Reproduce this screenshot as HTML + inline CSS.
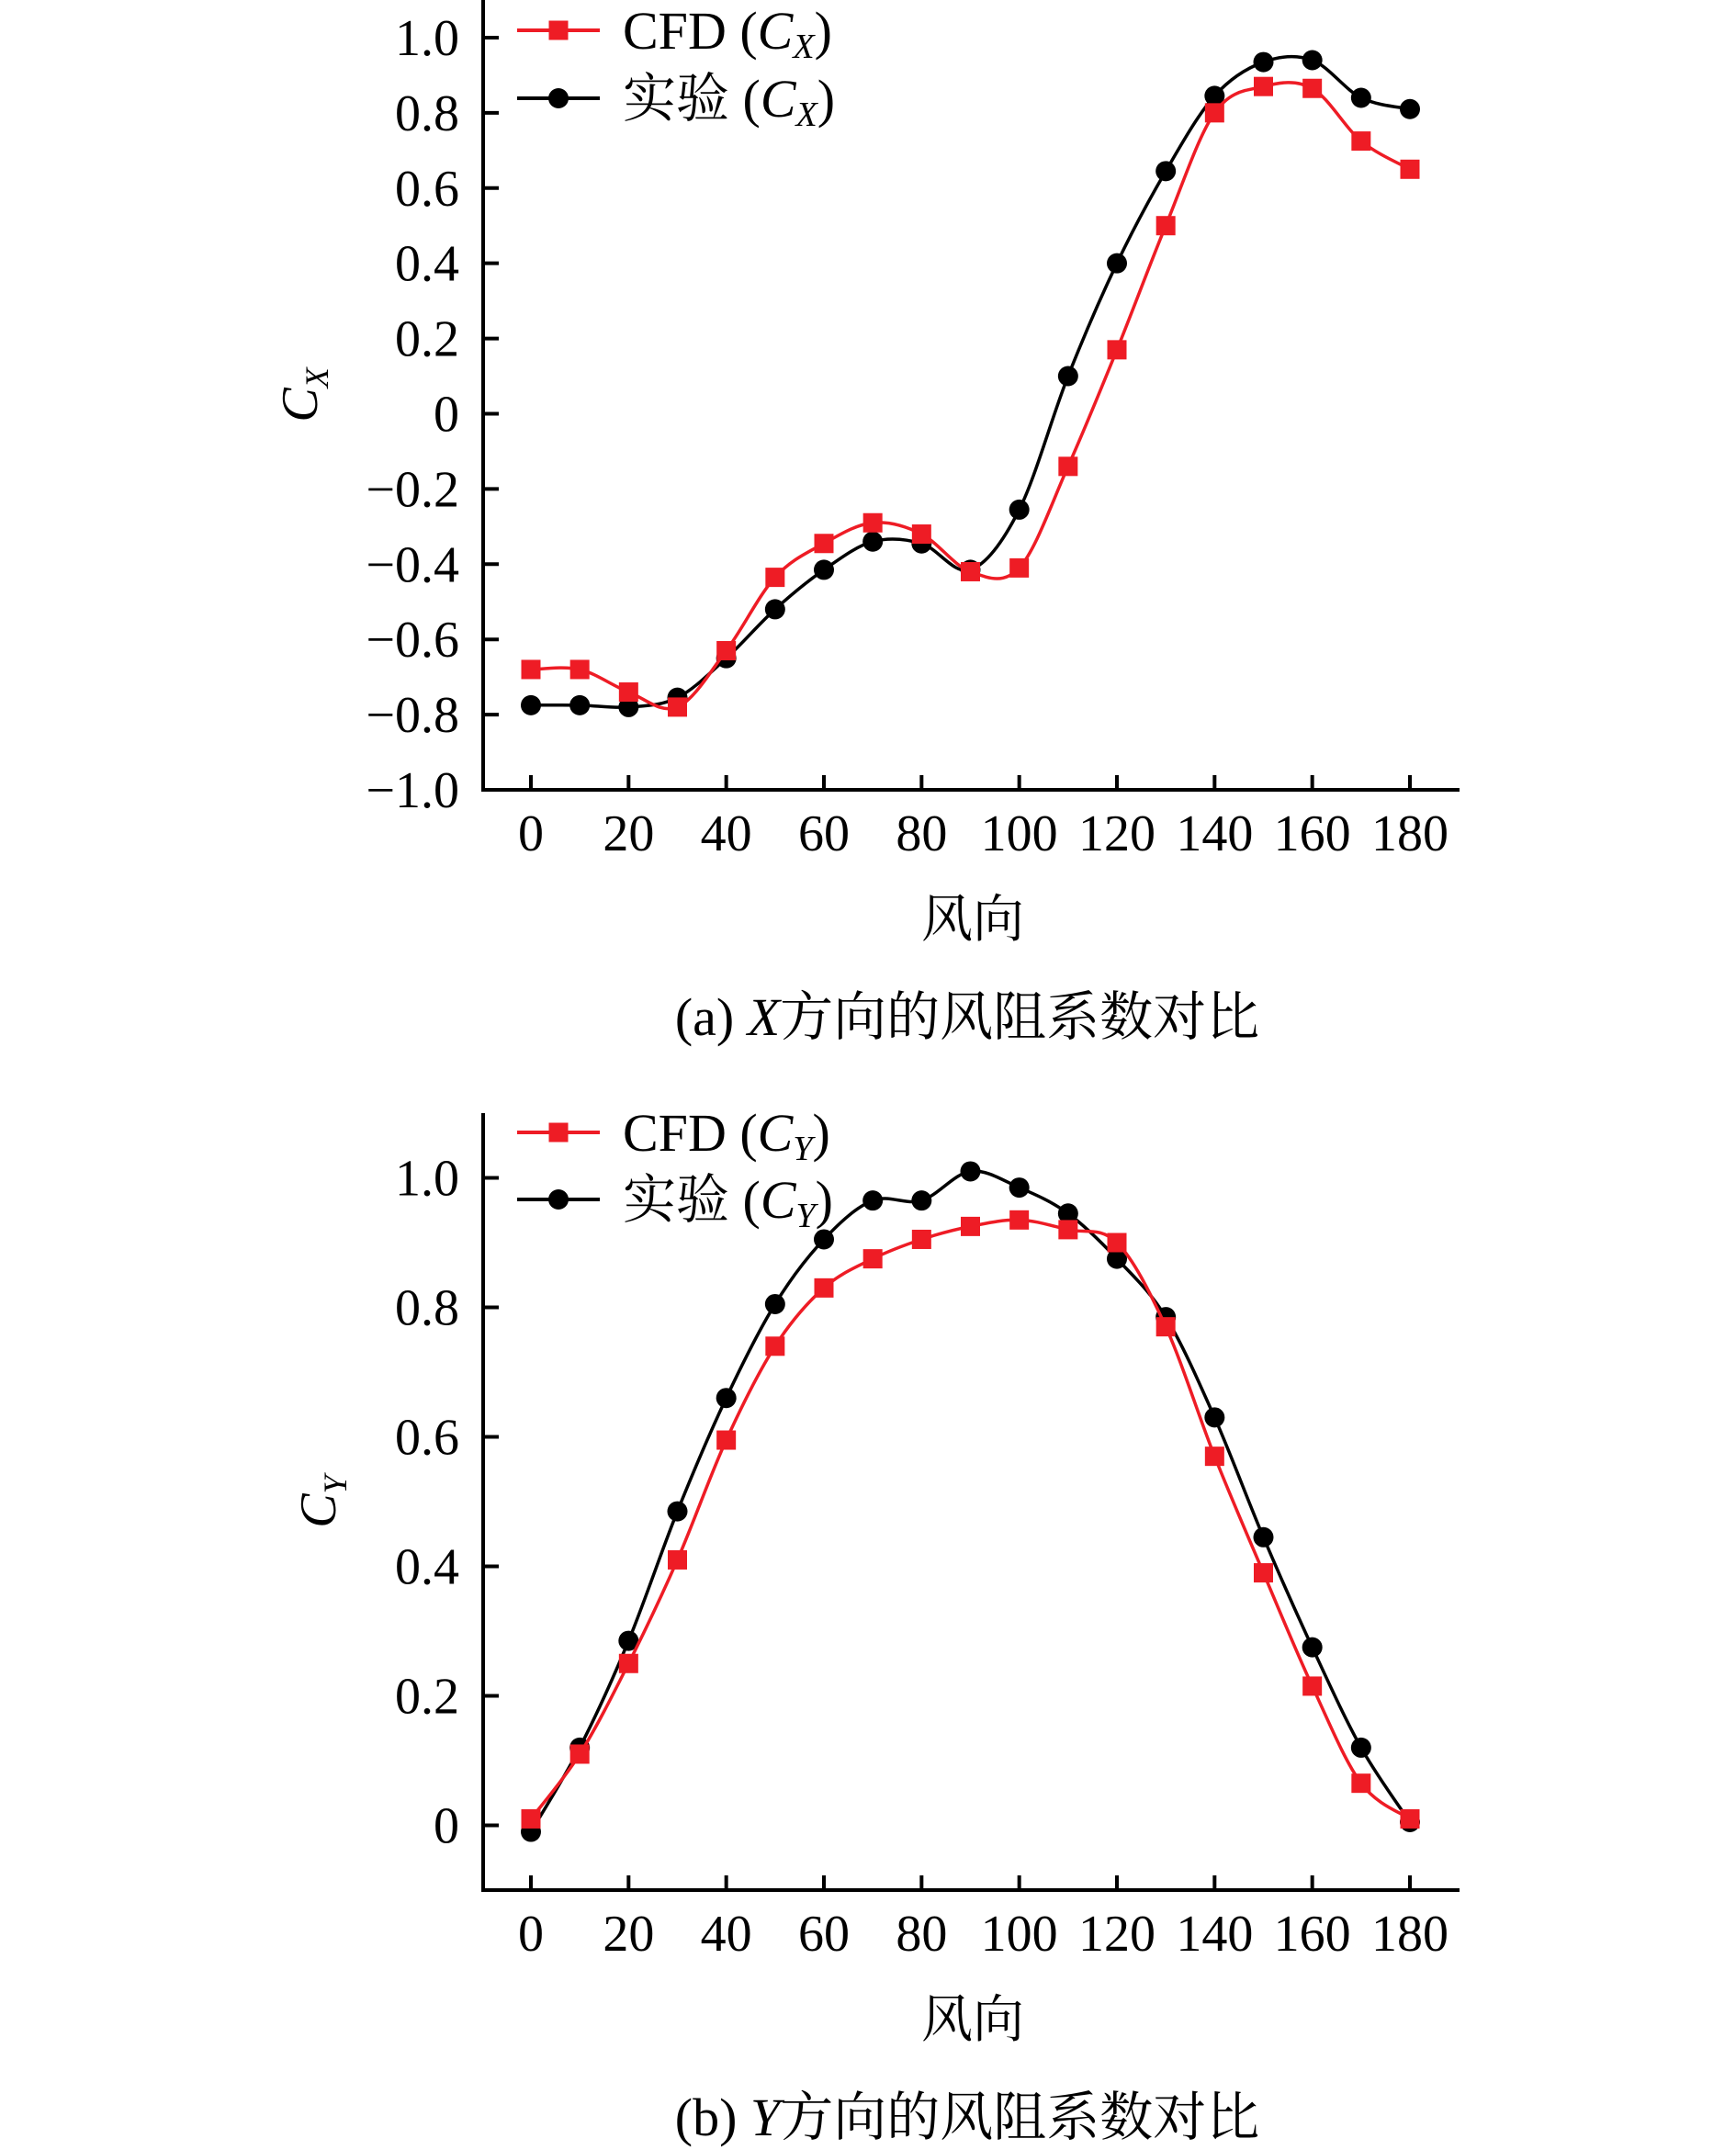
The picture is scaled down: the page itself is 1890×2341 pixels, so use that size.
<!DOCTYPE html>
<html><head><meta charset="utf-8"><style>
html,body{margin:0;padding:0;background:#fff}
svg{display:block}
text{font-family:"Liberation Serif","Noto Serif CJK SC",serif;fill:#000}
</style></head><body>
<svg id="s" width="1890" height="2341" viewBox="0 0 1890 2341" xmlns="http://www.w3.org/2000/svg"></svg>
<script>
const xCats=[0,10,20,30,40,50,60,70,80,90,100,110,120,130,140,150,160,170,180];
const xTicks=[0,20,40,60,80,100,120,140,160,180];
const cxCfd=[-0.68,-0.68,-0.74,-0.78,-0.63,-0.435,-0.345,-0.29,-0.32,-0.42,-0.41,-0.14,0.17,0.50,0.80,0.87,0.865,0.725,0.65];
const cxExp=[-0.775,-0.775,-0.78,-0.755,-0.65,-0.52,-0.415,-0.34,-0.345,-0.415,-0.255,0.10,0.40,0.645,0.845,0.935,0.94,0.84,0.81];
const cxTicks=[-1.0,-0.8,-0.6,-0.4,-0.2,0,0.2,0.4,0.6,0.8,1.0];
const cyCfd=[0.01,0.11,0.25,0.41,0.595,0.74,0.83,0.875,0.905,0.925,0.935,0.92,0.90,0.77,0.57,0.39,0.215,0.065,0.01];
const cyExp=[-0.01,0.12,0.285,0.485,0.66,0.805,0.905,0.965,0.965,1.01,0.985,0.945,0.875,0.785,0.63,0.445,0.275,0.12,0.005];
const cyTicks=[0,0.2,0.4,0.6,0.8,1.0];

const NS="http://www.w3.org/2000/svg";
const svg=document.getElementById('s');
function el(tag,attrs,parent){const e=document.createElementNS(NS,tag);for(const k in attrs)e.setAttribute(k,attrs[k]);(parent||svg).appendChild(e);return e;}
function fmt(v){if(v===0)return '0';const s=Math.abs(v).toFixed(1);return (v<0?'\u2212':'')+s;}
function spline(pts){let d='M'+pts[0][0]+','+pts[0][1];for(let i=0;i<pts.length-1;i++){const p0=pts[Math.max(0,i-1)],p1=pts[i],p2=pts[i+1],p3=pts[Math.min(pts.length-1,i+2)];const c1=[p1[0]+(p2[0]-p0[0])/6,p1[1]+(p2[1]-p0[1])/6];const c2=[p2[0]-(p3[0]-p1[0])/6,p2[1]-(p3[1]-p1[1])/6];d+=' C'+c1[0]+','+c1[1]+' '+c2[0]+','+c2[1]+' '+p2[0]+','+p2[1];}return d;}

function chart(o){
  const g=el('g',{});
  
  
  const X=v=>578+(v/180)*(1535-578);
  const Y=v=>o.yBot+(v-o.ymin)/(o.ymax-o.ymin)*(o.yTop-o.yBot);
  const axes=el('path',{d:'M526,'+o.yTop+' L526,'+o.yBot+' L1589,'+o.yBot,fill:'none',stroke:'#000','stroke-width':4},g);
  
  
  xTicks.forEach(t=>{
    const tk=el('line',{x1:X(t),x2:X(t),y1:o.yBot,y2:o.yBot-16,stroke:'#000','stroke-width':4},g);
    
    
    const tl=el('text',{x:X(t),y:o.yBot+66,'text-anchor':'middle','font-size':56},g);tl.textContent=t;
    
    
  });
  o.yTicks.forEach(t=>{
    const tk=el('line',{x1:526,x2:543,y1:Y(t),y2:Y(t),stroke:'#000','stroke-width':4},g);
    
    
    const tl=el('text',{x:500,y:Y(t)+19,'text-anchor':'end','font-size':56},g);tl.textContent=fmt(t);
    
    
  });
  const yl=el('text',{x:0,y:0,'font-size':56,'font-style':'italic',transform:'translate('+(o.ylx)+','+((o.yTop+o.yBot)/2)+') rotate(-90)','text-anchor':'middle'},g);
  yl.innerHTML='C<tspan font-size="36" dy="12">'+o.sub+'</tspan>';
  
  
  const xl=el('text',{x:1059,y:o.yBot+160,'text-anchor':'middle','font-size':56},g);xl.textContent='风向';
  
  
  const cap=el('text',{x:1053,y:o.yBot+267,'text-anchor':'middle','font-size':58},g);
  cap.innerHTML=o.capA+' <tspan font-style="italic">'+o.sub+'</tspan>方向的风阻系数对比';
  
  
  [[o.exp,'#000','circle','experiment-series'],[o.cfd,'#ee1c25','square','cfd-series']].forEach(([vals,col,mk,nm])=>{
    const sg=el('g',{},g);
    
    
    const pts=vals.map((v,i)=>[X(xCats[i]),Y(v)]);
    const ln=el('path',{d:spline(pts),fill:'none',stroke:col,'stroke-width':3.5},sg);
    
    
    pts.forEach(p=>{
      let m;
      if(mk==='circle'){m=el('circle',{cx:p[0],cy:p[1],r:11,fill:col},sg);}
      else{m=el('rect',{x:p[0]-10.5,y:p[1]-10.5,width:21,height:21,fill:col},sg);}
      
      
    });
  });
  const lg=el('g',{},g);
  
  
  [[o.legY1,'#ee1c25','square','CFD'],[o.legY2,'#000','circle','实验']].forEach(([ly,col,mk,lab])=>{
    const e=el('g',{},lg);
    
    
    el('line',{x1:563,x2:653,y1:ly,y2:ly,stroke:col,'stroke-width':4},e);
    if(mk==='circle')el('circle',{cx:608,cy:ly,r:11,fill:col},e);else el('rect',{x:597.5,y:ly-10.5,width:21,height:21,fill:col},e);
    const t=el('text',{x:678,y:ly+20,'font-size':58},e);
    t.innerHTML=lab+' (<tspan font-style="italic">C</tspan><tspan font-style="italic" font-size="38" dy="10">'+o.sub+'</tspan><tspan dy="-10">)</tspan>';
  });
}
chart({name:'cx-chart',yTop:0,yBot:860,ymin:-1,ymax:1.1,yTicks:cxTicks,cfd:cxCfd,exp:cxExp,sub:'X',capA:'(a)',ylx:345,legY1:33,legY2:107});
chart({name:'cy-chart',yTop:1212,yBot:2058,ymin:-0.1,ymax:1.1,yTicks:cyTicks,cfd:cyCfd,exp:cyExp,sub:'Y',capA:'(b)',ylx:365,legY1:1233,legY2:1306});
</script>
</body></html>
